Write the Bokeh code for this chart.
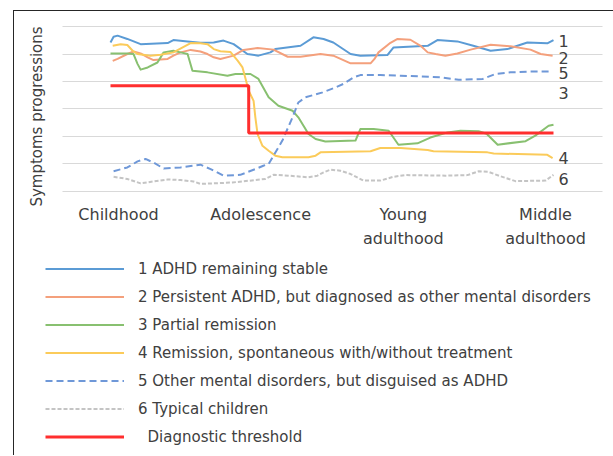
from math import pi
from bokeh.plotting import figure
from bokeh.models import (Range1d, FixedTicker, LinearAxis, Legend, LegendItem,
                          Label, InlineStyleSheet)
from bokeh.core.properties import value
from bokeh.embed import file_html
from bokeh.resources import INLINE

# ---------------- data (time axis 0..100, symptom level 0..6) ----------------
categories = ["Childhood", "Adolescence", "Young adulthood", "Middle adulthood"]
category_x = [1.8, 33.9, 66.1, 98.2]
grid_levels = [0, 1, 2, 3, 4, 5, 6]

s1_x = [0, 0.7, 1.6, 3.8, 6.8, 12.9, 14.2, 17.4, 20.3, 23.3, 25.5, 27.8, 30.9, 33.4, 36.1, 37.2,
        42.9, 45.8, 48.1, 50.3, 54.2, 56.4, 62.5, 63.9, 71.6, 73.8, 78.3, 81.9, 85.8, 89.6, 94.1, 98.6, 100]
s1_y = [5.42, 5.63, 5.67, 5.55, 5.36, 5.40, 5.51, 5.46, 5.41, 5.42, 5.49, 5.36, 5.00, 4.94, 5.06, 5.18,
        5.30, 5.61, 5.55, 5.42, 5.00, 4.94, 4.96, 5.24, 5.30, 5.51, 5.46, 5.30, 5.12, 5.18, 5.42, 5.39, 5.51]

s2_x = [0.5, 1.6, 3.8, 5.2, 6.8, 8.4, 9.7, 12.9, 14.2, 15.8, 18.1, 20.3, 21.9, 23.3, 24.8, 27.8, 30.0,
        33.2, 36.8, 40.0, 42.9, 47.4, 50.3, 54.2, 58.7, 59.6, 60.5, 63.2, 64.8, 67.7, 70.0, 71.6, 73.4,
        75.6, 78.3, 81.3, 85.8, 90.3, 94.8, 97.1, 99.8]
s2_y = [4.75, 4.82, 5.00, 5.09, 5.02, 4.88, 4.78, 4.82, 4.94, 5.06, 5.15, 5.09, 5.00, 4.88, 4.82, 4.94, 5.15,
        5.22, 5.16, 4.90, 4.90, 5.00, 4.94, 4.66, 4.66, 4.82, 5.06, 5.41, 5.55, 5.52, 5.30, 5.06, 5.00,
        4.94, 5.02, 5.16, 5.34, 5.28, 5.16, 5.00, 4.94]

s3_x = [0, 3.8, 5.2, 6.1, 6.8, 8.4, 10.6, 12.0, 14.2, 15.8, 17.4, 18.5, 21.9, 26.4, 28.2, 31.6, 33.4,
        35.7, 37.9, 41.1, 42.4, 44.7, 46.3, 48.5, 55.3, 56.4, 59.4, 62.8, 65.0, 69.3, 72.2, 76.1, 79.0,
        83.1, 84.9, 87.4, 93.7, 95.9, 98.9, 100]
s3_y = [5.02, 5.02, 5.00, 4.64, 4.43, 4.51, 4.69, 5.06, 5.12, 5.06, 5.00, 4.39, 4.33, 4.21, 4.27, 4.27, 4.09,
        3.42, 3.11, 2.93, 2.69, 2.08, 1.90, 1.81, 1.84, 2.26, 2.26, 2.20, 1.69, 1.74, 1.95, 2.14, 2.20,
        2.18, 2.09, 1.69, 1.82, 2.02, 2.38, 2.42]

s4_x = [0.5, 2.3, 3.8, 5.0, 6.1, 9.0, 11.3, 14.2, 16.3, 18.1, 20.3, 21.9, 23.3, 24.8, 27.1, 28.7, 29.8,
        30.5, 31.2, 32.3, 32.7, 33.2, 34.3, 35.7, 37.2, 38.8, 44.7, 46.3, 47.4, 58.7, 60.9, 65.5, 71.6,
        72.9, 85.1, 86.5, 98.6, 99.8]
s4_y = [5.30, 5.36, 5.33, 5.12, 5.00, 4.94, 4.97, 5.06, 5.24, 5.40, 5.39, 5.36, 5.18, 5.10, 5.07, 4.76, 4.51,
        4.09, 3.66, 3.29, 2.69, 2.08, 1.65, 1.47, 1.29, 1.23, 1.23, 1.29, 1.41, 1.45, 1.57, 1.57, 1.50,
        1.45, 1.41, 1.37, 1.32, 1.20]

s5_x = [0.7, 3.8, 6.1, 7.9, 9.7, 12.0, 15.8, 20.3, 22.6, 25.5, 29.3, 32.7, 34.5, 35.7, 36.8, 38.8, 41.1,
        42.4, 44.0, 47.9, 50.8, 52.6, 54.9, 56.4, 60.9, 65.5, 74.5, 78.6, 84.0, 86.9, 90.3, 94.8, 99.8]
s5_y = [0.72, 0.86, 1.08, 1.17, 1.04, 0.82, 0.86, 0.96, 0.80, 0.56, 0.59, 0.80, 0.92, 0.99, 1.29, 1.84, 2.69,
        3.23, 3.42, 3.60, 3.78, 3.91, 4.15, 4.23, 4.23, 4.21, 4.15, 4.06, 4.09, 4.27, 4.33, 4.36, 4.36]

s6_x = [0.7, 3.8, 6.8, 9.7, 12.9, 15.8, 18.7, 20.3, 23.3, 27.5, 35.0, 36.8, 40.2, 44.7, 46.7, 48.1, 49.7,
        51.9, 54.2, 57.1, 60.9, 63.9, 66.6, 75.6, 80.6, 83.1, 85.3, 88.0, 91.4, 98.2, 100]
s6_y = [0.52, 0.44, 0.28, 0.35, 0.42, 0.40, 0.35, 0.26, 0.28, 0.31, 0.44, 0.59, 0.56, 0.50, 0.56, 0.68, 0.78,
        0.74, 0.62, 0.38, 0.38, 0.52, 0.58, 0.56, 0.58, 0.72, 0.70, 0.54, 0.36, 0.38, 0.59]

threshold_x = [0, 31.2, 100]
threshold_y = [3.84, 2.12, 2.12]

end_labels = ["1", "2", "5", "3", "4", "6"]
end_label_x = [102.3] * 6
end_label_y = [5.49, 4.86, 4.32, 3.59, 1.22, 0.45]

legend_labels = [
    "1 ADHD remaining stable",
    "2 Persistent ADHD, but diagnosed as other mental disorders",
    "3 Partial remission",
    "4 Remission, spontaneous with/without treatment",
    "5 Other mental disorders, but disguised as ADHD",
    "6 Typical children",
    "\u00a0\u00a0Diagnostic threshold",
]
y_title = "Symptoms progressions"
y_title_pos = (-16.5, 2.72)
grid_x_bounds = (-10.84, 111.06)

# ---------------- styling ----------------
FONT = "DejaVu Sans"
TXT = "#404040"
colors = ["#5B9BD5", "#F4A07C", "#88C070", "#FBCB5A", "#6F98D8", "#C4C4C4", "#FF2E2E"]

# the plotting frame covers the whole canvas; axes are pinned inside it
p = figure(width=605, height=448, output_backend="svg", toolbar_location=None, title=None,
           x_range=Range1d(-24.83, 111.74), y_range=Range1d(-9.398, 6.953),
           min_border_left=0, min_border_right=0, min_border_top=0, min_border_bottom=0)
p.outline_line_color = None
p.yaxis.visible = False
p.xgrid.visible = False
p.ygrid.ticker = FixedTicker(ticks=grid_levels)
p.ygrid.cross_bounds = grid_x_bounds
p.ygrid.grid_line_color = "#D9D9D9"
p.ygrid.grid_line_width = 1

first_lines = {x: c.split(" ")[0] for x, c in zip(category_x, categories)}
second_lines = {x: (c.split(" ")[1] if " " in c else "") for x, c in zip(category_x, categories)}

axa = p.xaxis[0]
axa.ticker = FixedTicker(ticks=category_x)
axa.major_label_overrides = first_lines
axb = LinearAxis(ticker=FixedTicker(ticks=category_x), major_label_overrides=second_lines)
p.add_layout(axb, "below")
for ax, standoff in ((axa, 14), (axb, 38)):
    ax.fixed_location = 0
    ax.axis_line_color = None
    ax.major_tick_line_color = None
    ax.minor_tick_line_color = None
    ax.major_tick_out = 0
    ax.major_tick_in = 0
    ax.major_label_standoff = standoff
    ax.major_label_text_font = FONT
    ax.major_label_text_font_size = "16px"
    ax.major_label_text_color = TXT

series = [(s1_x, s1_y, "solid", 2), (s2_x, s2_y, "solid", 2), (s3_x, s3_y, "solid", 2),
          (s4_x, s4_y, "solid", 2), (s5_x, s5_y, "7 4", 2), (s6_x, s6_y, "4 2", 2)]
renderers = []
for i, (xs, ys, dash, w) in enumerate(series):
    r = p.line(xs, ys, line_color=colors[i], line_width=w, line_dash=dash, line_join="round")
    renderers.append(r)
r_thr = p.step(threshold_x, threshold_y, mode="after", line_color=colors[6], line_width=3)
renderers.append(r_thr)

p.text(x=end_label_x, y=end_label_y, text=end_labels, text_font=value(FONT),
       text_font_size="16px", text_color=TXT, text_align="center", text_baseline="middle")

p.add_layout(Label(x=y_title_pos[0], y=y_title_pos[1], text=y_title, angle=pi / 2,
                   text_align="center", text_baseline="middle", text_font=FONT,
                   text_font_size="15px", text_color=TXT))

legend = Legend(items=[LegendItem(label=l, renderers=[r]) for l, r in zip(legend_labels, renderers)],
                location=(45, -1), glyph_width=79, glyph_height=25, label_height=25,
                spacing=3, padding=0, margin=0, label_standoff=14,
                border_line_color=None, background_fill_alpha=0,
                label_text_font=FONT, label_text_font_size="15px", label_text_color=TXT)
p.add_layout(legend)

p.stylesheets = [InlineStyleSheet(css=(
    ":host::after { content: ''; position: absolute; left: 13px; top: 10px; "
    "width: 600px; height: 445px; box-sizing: border-box; "
    "border-left: 1.5px solid #262626; border-top: 1.5px solid #262626; "
    "pointer-events: none; }"))]

open("out.html", "w").write(file_html(p, INLINE))
